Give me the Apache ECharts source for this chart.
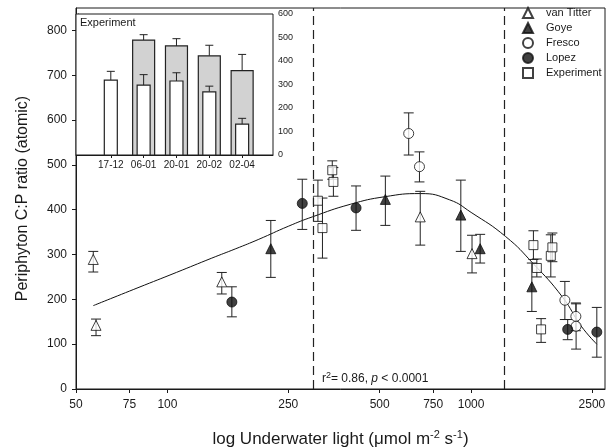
<!DOCTYPE html>
<html>
<head>
<meta charset="utf-8">
<script src="https://cdn.jsdelivr.net/npm/echarts@6/dist/echarts.min.js"></script>
<style>
html,body{margin:0;padding:0;background:#fff;}
#c{width:613px;height:447px;}
</style>
</head>
<body>
<div id="c"></div>
<script>
// ---- Main chart data ----
const xTickLabels = [50, 75, 100, 250, 500, 750, 1000, 2500];
const yTickLabels = [0, 100, 200, 300, 400, 500, 600, 700, 800];
const lightBounds = [300, 1300];

const vanTitterX  = [57, 58.2, 151, 680, 1007];
const vanTitterY  = [289, 142, 239, 384, 302];
const vanTitterLo = [261, 119, 212, 321, 259];
const vanTitterHi = [307, 156, 260, 441, 343];

const goyeX  = [219, 522, 925, 1071, 1585];
const goyeY  = [313, 423, 388, 313, 228];
const goyeLo = [249, 365, 307, 281, 173];
const goyeHi = [376, 475, 466, 345, 281];

const frescoX  = [623, 676, 2036, 2213, 2217];
const frescoY  = [570, 496, 198, 162, 140];
const frescoLo = [522, 462, 155, 130, 89];
const frescoHi = [616, 529, 240, 192, 190];

const lopezX  = [163, 278, 418, 2080, 2594];
const lopezY  = [194, 414, 404, 133, 127];
const lopezLo = [161, 356, 354, 110, 71];
const lopezHi = [228, 468, 453, 155, 182];

const experimentX  = [313, 324, 349, 352, 1604, 1646, 1700, 1830, 1852];
const experimentY  = [420, 359, 488, 462, 321, 270, 133, 297, 316];
const experimentLo = [374, 292, 468, 430, 289, 250, 104, 250, 284];
const experimentHi = [466, 426, 509, 494, 353, 290, 157, 344, 348];

const fitX = [57, 80, 107, 140, 168, 200, 250, 300, 400, 520, 680, 850, 1000, 1300, 1600, 2000, 2300, 2594];
const fitY = [186, 226, 260, 292, 313, 334, 363, 384, 412, 429, 436, 422, 394, 340, 280, 205, 141, 100];

// ---- Inset data ----
const insetCats = ['17-12', '06-01', '20-01', '20-02', '02-04'];
const insetGray = [null, 489, 464, 422, 359];
const insetGrayErr = [null, 512, 495, 467, 428];
const insetWhite = [319, 297, 315, 269, 131];
const insetWhiteErr = [356, 342, 350, 293, 156];

// ---- build ----
const L = v => Math.log10(v);
const FONT = 'Liberation Sans, Arial, sans-serif';
const INK = '#1a1a1a';

function pts(xs, ys) { return xs.map((x, i) => [L(x), ys[i]]); }
function errs(xs, lo, hi) { return xs.map((x, i) => [L(x), lo[i], hi[i]]); }

function errRender(params, api) {
  const x = api.value(0);
  const p1 = api.coord([x, api.value(1)]);
  const p2 = api.coord([x, api.value(2)]);
  const w = 5;
  const st = { stroke: '#222', lineWidth: 1 };
  return {
    type: 'group',
    children: [
      { type: 'line', shape: { x1: p1[0], y1: p1[1], x2: p2[0], y2: p2[1] }, style: st },
      { type: 'line', shape: { x1: p1[0] - w, y1: p1[1], x2: p1[0] + w, y2: p1[1] }, style: st },
      { type: 'line', shape: { x1: p2[0] - w, y1: p2[1], x2: p2[0] + w, y2: p2[1] }, style: st }
    ]
  };
}

function errSeries(data) {
  return {
    type: 'custom', xAxisIndex: 0, yAxisIndex: 0, renderItem: errRender,
    data: data, encode: { x: 0, y: [1, 2] }, z: 2, silent: true
  };
}

function scatter(name, data, symbol, filled, size) {
  return {
    name: name, type: 'scatter', xAxisIndex: 0, yAxisIndex: 0,
    data: data, symbol: symbol, symbolSize: size, z: 4,
    itemStyle: filled ? { color: '#111', borderColor: '#111', borderWidth: 1 }
                      : { color: '#fff', borderColor: '#111', borderWidth: 1 }
  };
}

function barRender(width) {
  return function (params, api) {
    const x = api.value(0);
    const v = api.value(1);
    const e = api.value(2);
    const base = api.coord([x, 0]);
    const top = api.coord([x, v]);
    const et = api.coord([x, e]);
    const fill = width > 16 ? '#d2d2d2' : '#ffffff';
    const cw = 4;
    return {
      type: 'group',
      children: [
        { type: 'line', shape: { x1: top[0], y1: top[1], x2: et[0], y2: et[1] }, style: { stroke: '#222', lineWidth: 1 } },
        { type: 'line', shape: { x1: et[0] - cw, y1: et[1], x2: et[0] + cw, y2: et[1] }, style: { stroke: '#222', lineWidth: 1 } },
        { type: 'rect', shape: { x: base[0] - width / 2, y: top[1], width: width, height: base[1] - top[1] },
          style: { fill: fill, stroke: '#222', lineWidth: 1.2 } }
      ]
    };
  };
}

const grayData = insetGray.map((v, i) => v == null ? null : [i + 1, v, insetGrayErr[i]]).filter(d => d);
const whiteData = insetWhite.map((v, i) => [i + 1, v, insetWhiteErr[i]]);

const chart = echarts.init(document.getElementById('c'), null, { renderer: 'canvas' });
chart.setOption({
  animation: false,
  backgroundColor: '#fff',
  textStyle: { fontFamily: FONT },
  grid: [
    { left: 76, right: 8, top: 8, bottom: 58, show: true, borderColor: INK, borderWidth: 1,
      backgroundColor: 'transparent', containLabel: false, outerBoundsMode: 'none' },
    { left: 76, right: 340, top: 14, bottom: 292, show: true, borderColor: INK, borderWidth: 1,
      backgroundColor: '#fff', z: 10, containLabel: false, outerBoundsMode: 'none' }
  ],
  legend: {
    orient: 'vertical', left: 522, top: 7, padding: 0, itemWidth: 10, itemHeight: 10, itemGap: 3,
    data: ['van Titter', 'Goye', 'Fresco', 'Lopez', 'Experiment'],
    textStyle: { fontSize: 11, color: INK, fontFamily: FONT, padding: [0, 0, 0, 8] }
  },
  xAxis: [
    {
      type: 'value', gridIndex: 0, min: L(50), max: L(2760),
      axisLine: { lineStyle: { color: INK } },
      axisTick: { show: true, length: 4, customValues: xTickLabels.map(L), lineStyle: { color: INK } },
      axisLabel: { customValues: xTickLabels.map(L), formatter: v => String(Math.round(Math.pow(10, v))),
                   fontSize: 12, color: INK, margin: 10, fontFamily: FONT },
      splitLine: { show: false },
      name: 'log Underwater light (\u03bcmol m{sup|-2} s{sup|-1})',
      nameLocation: 'middle', nameGap: 40,
      nameTextStyle: { fontSize: 17, color: INK, fontFamily: FONT,
        rich: { sup: { fontSize: 11, verticalAlign: 'top', padding: [0, 0, 10, 0], fontFamily: FONT, color: INK } } }
    },
    {
      type: 'value', gridIndex: 1, min: -0.06, max: 5.94,
      axisLine: { lineStyle: { color: INK } },
      axisTick: { show: true, length: 3, customValues: [1, 2, 3, 4, 5], lineStyle: { color: INK } },
      axisLabel: { customValues: [1, 2, 3, 4, 5], formatter: v => insetCats[Math.round(v) - 1] || '',
                   fontSize: 10, color: INK, margin: 5, fontFamily: FONT },
      splitLine: { show: false }
    }
  ],
  yAxis: [
    {
      type: 'value', gridIndex: 0, min: 0, max: 850, interval: 100,
      axisLine: { show: true, lineStyle: { color: INK } },
      axisTick: { show: true, length: 4, customValues: yTickLabels, lineStyle: { color: INK } },
      axisLabel: { customValues: yTickLabels, fontSize: 12, color: INK, margin: 9, fontFamily: FONT },
      splitLine: { show: false },
      name: 'Periphyton C:P ratio (atomic)', nameLocation: 'middle', nameGap: 45,
      nameTextStyle: { fontSize: 16, color: INK, fontFamily: FONT }
    },
    {
      type: 'value', gridIndex: 1, position: 'right', min: 0, max: 600, interval: 100,
      axisLine: { show: true, lineStyle: { color: INK } },
      axisTick: { show: true, length: 3, lineStyle: { color: INK } },
      axisLabel: { fontSize: 9, color: INK, margin: 5, fontFamily: FONT },
      splitLine: { show: false }
    }
  ],
  graphic: [
    { type: 'text', left: 80, top: 17, z: 100,
      style: { text: 'Experiment', fontSize: 11, fill: INK, fontFamily: FONT } },
    { type: 'text', left: 322, top: 371, z: 100,
      style: { text: 'r{s|2}= 0.86, {i|p} < 0.0001', fontSize: 12, fill: INK, fontFamily: FONT,
        rich: { s: { fontSize: 9, verticalAlign: 'top', padding: [0, 0, 6, 0], fontFamily: FONT },
                i: { fontStyle: 'italic', fontSize: 12, fontFamily: FONT } } } }
  ],
  series: [
    {
      type: 'line', xAxisIndex: 0, yAxisIndex: 0, data: pts(fitX, fitY), smooth: true,
      showSymbol: false, symbol: 'none', lineStyle: { color: '#111', width: 1 }, z: 1, silent: true,
      markLine: {
        silent: true, symbol: 'none', label: { show: false },
        lineStyle: { color: '#222', type: [9, 5], width: 1.2 },
        data: lightBounds.map(v => ({ xAxis: L(v) }))
      }
    },
    errSeries(errs(vanTitterX, vanTitterLo, vanTitterHi)),
    errSeries(errs(goyeX, goyeLo, goyeHi)),
    errSeries(errs(frescoX, frescoLo, frescoHi)),
    errSeries(errs(lopezX, lopezLo, lopezHi)),
    errSeries(errs(experimentX, experimentLo, experimentHi)),
    scatter('van Titter', pts(vanTitterX, vanTitterY), 'triangle', false, 10),
    scatter('Goye', pts(goyeX, goyeY), 'triangle', true, 10),
    scatter('Fresco', pts(frescoX, frescoY), 'circle', false, 10),
    scatter('Lopez', pts(lopezX, lopezY), 'circle', true, 10),
    scatter('Experiment', pts(experimentX, experimentY), 'rect', false, 9),
    {
      type: 'custom', xAxisIndex: 1, yAxisIndex: 1, renderItem: barRender(22),
      data: grayData, encode: { x: 0, y: [1, 2] }, z: 20, silent: true
    },
    {
      type: 'custom', xAxisIndex: 1, yAxisIndex: 1, renderItem: barRender(13),
      data: whiteData, encode: { x: 0, y: [1, 2] }, z: 21, silent: true
    }
  ]
});
</script>
</body>
</html>
